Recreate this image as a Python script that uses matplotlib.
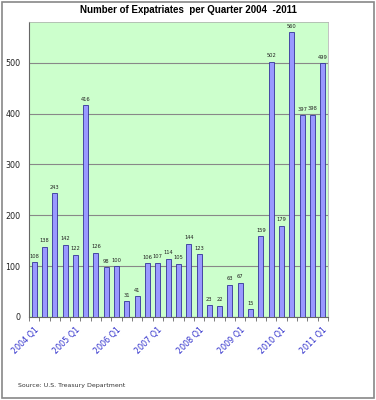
import numpy as np
import matplotlib.pyplot as plt
from matplotlib.patches import Rectangle

quarters = [f"{y} Q{q}" for y in range(2004, 2012) for q in range(1, 5)][:29]
values = [108, 138, 243, 142, 122, 416, 126, 98, 100, 31, 41, 106, 107, 114,
          105, 144, 123, 23, 22, 63, 67, 15, 159, 502, 179, 560, 397, 398, 499]
yticks = [0, 100, 200, 300, 400, 500]

fig = plt.figure(figsize=(3.76, 4.0), dpi=100)
ax = fig.add_axes([0.077, 0.2075, 0.795, 0.7375])
fig.patches.append(Rectangle((0.004, 0.004), 0.992, 0.992, transform=fig.transFigure,
                             fill=False, edgecolor='#888888', linewidth=1.2))

x = np.arange(len(values))
ax.set_facecolor('#ccffcc')
ax.bar(x, values, width=0.48, color='#9999ff', edgecolor='#333399', linewidth=0.6, zorder=3)
for xi, v in zip(x, values):
    ax.text(xi, v + 7, str(v), ha='center', va='bottom', fontsize=3.7, color='#222222', zorder=4)

ax.set_xlim(-0.5, len(values) - 0.5)
ax.set_ylim(0, 580)
ax.set_yticks(yticks)
ax.yaxis.grid(True, color='#888888', linewidth=0.8, zorder=1)
ax.tick_params(axis='y', length=0, labelsize=5.8, pad=6, labelcolor='#222222')

major = x[::4]
ax.set_xticks(major)
ax.set_xticklabels([quarters[i] for i in major], rotation=45, ha='right',
                   rotation_mode='anchor', fontsize=5.8, color='#3333cc')
ax.set_xticks(np.arange(-0.5, len(values), 1), minor=True)
ax.tick_params(axis='x', which='major', length=0, pad=6)
ax.tick_params(axis='x', which='minor', length=3, color='#666666')

for s in ['top', 'right']:
    ax.spines[s].set_color('#aaaaaa')
    ax.spines[s].set_linewidth(0.5)
for s in ['left', 'bottom']:
    ax.spines[s].set_color('#666666')
    ax.spines[s].set_linewidth(0.8)

fig.text(0.5, 0.976, 'Number of Expatriates  per Quarter 2004  -2011', ha='center', va='center',
         fontsize=7, fontweight='bold', family='Liberation Sans')
fig.text(0.048, 0.036, 'Source: U.S. Treasury Department', ha='left', va='center', fontsize=4.5,
         color='#333333')

fig.savefig('out.png', dpi=100)
